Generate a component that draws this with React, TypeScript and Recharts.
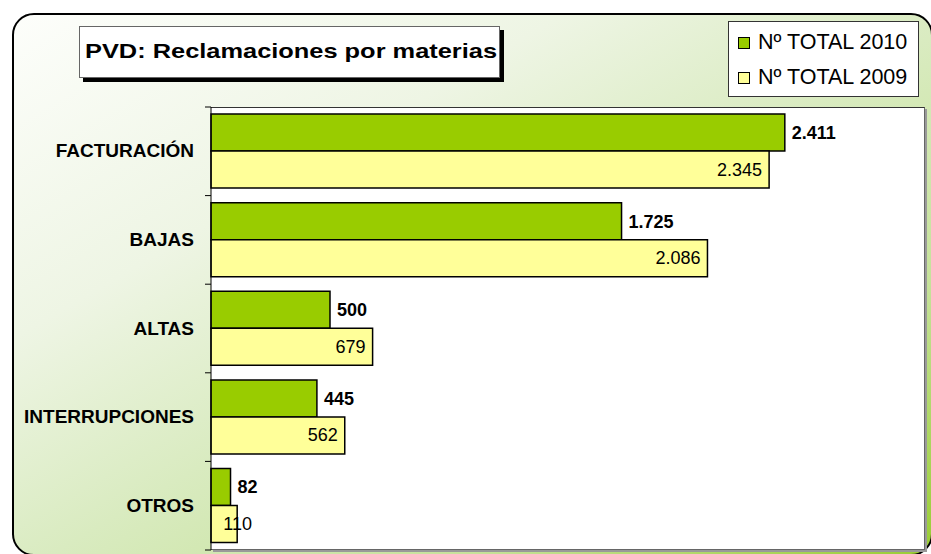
import { Bar, BarChart, LabelList, Legend, XAxis, YAxis } from "recharts";

const categories = ["FACTURACIÓN", "BAJAS", "ALTAS", "INTERRUPCIONES", "OTROS"];
const total2010 = [2411, 1725, 500, 445, 82];
const total2009 = [2345, 2086, 679, 562, 110];
const seriesNames = ["Nº TOTAL 2010", "Nº TOTAL 2009"];
const xMax = 3000;

const data = categories.map((name, i) => ({ name, y2010: total2010[i], y2009: total2009[i] }));

const W = 931;
const H = 554;
const PLOT_LEFT = 211;
const PLOT_TOP = 107;
const PLOT_RIGHT = 925;
const PLOT_BOTTOM = 550;
const FONT = '"Liberation Sans", Arial, sans-serif';

const fmt = (v: number) => String(v).replace(/\B(?=(\d{3})+(?!\d))/g, ".");

function CategoryTick(props: any) {
  const { x, y, payload, index } = props;
  const axisX = x + 17;
  const half = payload?.offset ?? (PLOT_BOTTOM - PLOT_TOP) / categories.length / 2;
  return (
    <g>
      <line x1={axisX - 6} x2={axisX} y1={y - half} y2={y - half} stroke="#000" />
      {index === categories.length - 1 && (
        <line x1={axisX - 6} x2={axisX} y1={y + half} y2={y + half} stroke="#000" />
      )}
      <text x={x} y={y} dy={6} textAnchor="end" fontSize={19} fontWeight="bold" fill="#000" fontFamily={FONT}>
        {payload.value}
      </text>
    </g>
  );
}

function Label2009(props: any) {
  const { x, y, width, height, value } = props;
  const end = Math.max(x + width - 7, x + 41);
  return (
    <text x={end} y={y + height / 2} dy={6} textAnchor="end" fontSize={18} fill="#000" fontFamily={FONT}>
      {fmt(value)}
    </text>
  );
}

function LegendBox({ payload }: any) {
  // keep the series order of the source (2010 first)
  const items = [...(payload || [])].sort(
    (a: any, b: any) => seriesNames.indexOf(a.value) - seriesNames.indexOf(b.value)
  );
  return (
    <div
      style={{
        width: 189,
        height: 71,
        background: "#fff",
        border: "1px solid #333",
        paddingTop: 3,
        boxSizing: "content-box",
        fontFamily: FONT,
      }}
    >
      {items.map((p: any) => (
        <div key={p.value} style={{ display: "flex", alignItems: "center", height: 35 }}>
          <span
            style={{
              display: "inline-block",
              width: 10,
              height: 10,
              marginLeft: 9,
              marginRight: 8,
              background: p.color,
              border: "1px solid #000",
            }}
          />
          <span style={{ fontSize: 21.5, color: "#000" }}>{p.value}</span>
        </div>
      ))}
    </div>
  );
}

export default function App() {
  return (
    <div style={{ position: "absolute", left: 0, top: 0, width: W, height: H, overflow: "hidden", background: "#fff" }}>
      <div
        style={{
          position: "absolute",
          left: 12,
          top: 13,
          width: 921,
          height: 543,
          boxSizing: "border-box",
          border: "2px solid #000",
          borderRadius: 22,
          background:
            "linear-gradient(to bottom right, #fdfefb 0%, #eef5e4 30%, #d9ebc0 52%, #c6e29a 75%, #a8d455 92%, #99cc33 100%)",
        }}
      />
      <div
        style={{
          position: "absolute",
          left: PLOT_LEFT,
          top: PLOT_TOP,
          width: PLOT_RIGHT - PLOT_LEFT,
          height: PLOT_BOTTOM - PLOT_TOP,
          background: "#fff",
          borderTop: "1px solid #333",
          borderRight: "1px solid #666",
          borderBottom: "1px solid #666",
          boxSizing: "border-box",
          boxShadow: "2px 2px 0 #999",
        }}
      />
      <div style={{ position: "absolute", left: 0, top: 0 }}>
        <BarChart
          width={W}
          height={H}
          data={data}
          layout="vertical"
          barCategoryGap="8%"
          barGap={0}
          margin={{ top: PLOT_TOP, right: W - PLOT_RIGHT, bottom: H - PLOT_BOTTOM, left: PLOT_LEFT - 200 }}
        >
          <XAxis type="number" domain={[0, xMax]} hide />
          <YAxis
            type="category"
            dataKey="name"
            width={200}
            tickSize={6}
            tickMargin={11}
            tickLine={false}
            axisLine={{ stroke: "#000" }}
            tick={<CategoryTick />}
            interval={0}
          />
          <Legend
            layout="vertical"
            align="center"
            verticalAlign="middle"
            content={<LegendBox />}
            wrapperStyle={{ left: 728, top: 21, width: "auto" }}
          />
          <Bar dataKey="y2010" name={seriesNames[0]} fill="#99cc00" stroke="#000" strokeWidth={1.5} isAnimationActive={false}>
            <LabelList
              dataKey="y2010"
              position="right"
              offset={7}
              formatter={(v: any) => fmt(Number(v))}
              style={{ fontSize: 18, fontWeight: "bold", fill: "#000", fontFamily: FONT }}
            />
          </Bar>
          <Bar dataKey="y2009" name={seriesNames[1]} fill="#ffff99" stroke="#000" strokeWidth={1.5} isAnimationActive={false}>
            <LabelList dataKey="y2009" content={<Label2009 />} />
          </Bar>
        </BarChart>
      </div>
      <div
        style={{
          position: "absolute",
          left: 79,
          top: 26,
          width: 421,
          height: 52,
          boxSizing: "border-box",
          background: "#fff",
          border: "1px solid #666",
          boxShadow: "4px 4px 0 #000",
        }}
      >
        <svg width={419} height={50} style={{ display: "block" }}>
          <text
            x={5}
            y={31}
            fontSize={21}
            fontWeight="bold"
            fontFamily={FONT}
            fill="#000"
            textLength={412}
            lengthAdjust="spacingAndGlyphs"
          >
            PVD: Reclamaciones por materias
          </text>
        </svg>
      </div>
    </div>
  );
}
